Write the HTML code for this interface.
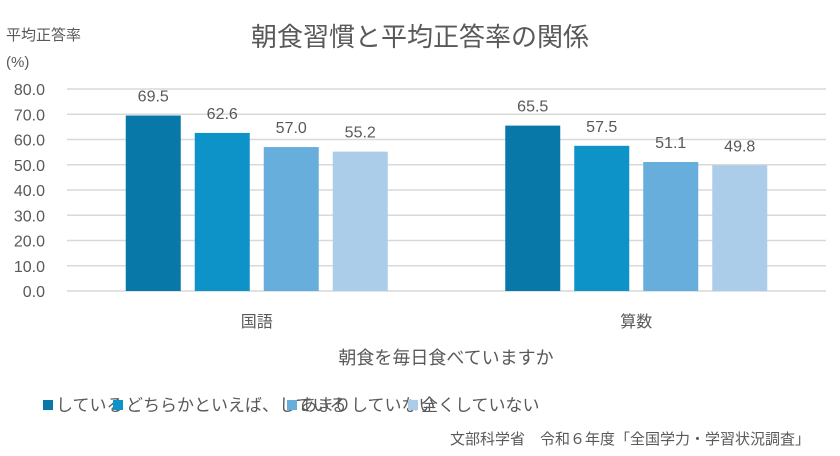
<!DOCTYPE html>
<html><head><meta charset="utf-8"><style>
body{margin:0;background:#fff;}
svg text{font-family:"Liberation Sans","Noto Sans CJK JP",sans-serif;fill:#595959;}
</style></head><body>
<svg width="840" height="451" xmlns="http://www.w3.org/2000/svg">
<text x="420" y="46" font-size="26" text-anchor="middle">朝食習慣と平均正答率の関係</text>
<text x="6" y="40" font-size="15" fill="#404040">平均正答率</text>
<text x="6" y="67" font-size="15" fill="#404040">(%)</text>
<g id="grid"></g><g id="bars"></g><g id="labels"></g>
<text x="446" y="364" font-size="18" text-anchor="middle">朝食を毎日食べていますか</text>
<g id="legend"></g>
<text x="810" y="444" font-size="15" fill="#262626" text-anchor="end">文部科学省　令和６年度「全国学力・学習状況調査」</text>
</svg>
<script>
const categories=["国語","算数"];
const seriesNames=["している","どちらかといえば、している","あまりしていない","全くしていない"];
const seriesColors=["#0878a8","#0e93c8","#68aedc","#abcde9"];
const values=[[69.5,65.5],[62.6,57.5],[57.0,51.1],[55.2,49.8]];
const ticks=[0,10,20,30,40,50,60,70,80];
const NS="http://www.w3.org/2000/svg";
const x0=67,x1=826,yTop=89,yBot=291,maxV=80;
const y=v=>yBot-(yBot-yTop)*v/maxV;
const catW=(x1-x0)/categories.length;
const bw=55,gap=14;
function mk(t,a,p){const e=document.createElementNS(NS,t);for(const k in a)e.setAttribute(k,a[k]);p.appendChild(e);return e;}
const grid=document.getElementById('grid');
ticks.forEach(t=>{
 const l=mk('line',{x1:x0,x2:x1,y1:y(t),y2:y(t),stroke:'#d9d9d9','stroke-width':1.5},grid);
 
 
 const tx=mk('text',{x:45,y:y(t)+6,'font-size':16,'text-anchor':'end'},grid);
 tx.textContent=t.toFixed(1);
 
 
});
const bars=document.getElementById('bars'),labels=document.getElementById('labels');
categories.forEach((c,ci)=>{
 const cx=x0+catW*(ci+0.5);
 const gw=bw*4+gap*3;
 values.forEach((sv,si)=>{
  const v=sv[ci];
  const bx=cx-gw/2+si*(bw+gap);
  const r=mk('rect',{x:bx,y:y(v),width:bw,height:yBot-y(v),fill:seriesColors[si]},bars);
  
  
  const t=mk('text',{x:bx+bw/2,y:y(v)-14,'font-size':16,'text-anchor':'middle'},labels);
  t.textContent=v.toFixed(1);
  
  
 });
 const ct=mk('text',{x:cx,y:327,'font-size':16,'text-anchor':'middle'},labels);
 ct.textContent=c;
 
 
});
const lg=document.getElementById('legend');
const lx=[43,113,287,408];
seriesNames.forEach((n,i)=>{
 const g=mk('g',{},lg);
 
 
 mk('rect',{x:lx[i],y:400,width:10,height:10,fill:seriesColors[i]},g);
 const t=mk('text',{x:lx[i]+13,y:411,'font-size':17},g);
 t.textContent=n;
});
</script>
</body></html>
